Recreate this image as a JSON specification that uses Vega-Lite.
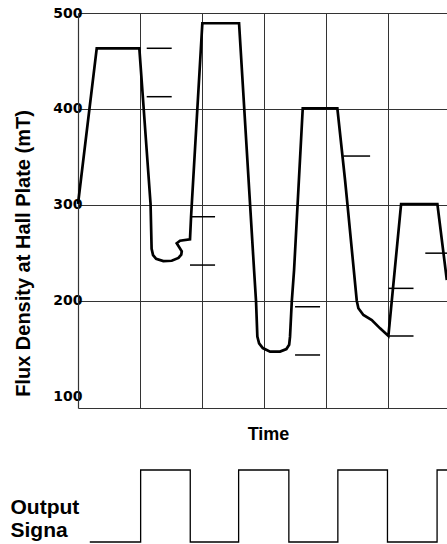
{
  "$schema": "https://vega.github.io/schema/vega-lite/v6.json",
  "background": "white",
  "padding": {"left": 10, "top": 6, "right": 0, "bottom": 2},
  "config": {"view": {"stroke": null}, "concat": {"spacing": 24}},
  "datasets": {
    "flux": [
      {"i": 1, "t": 0, "flux": 300.8},
      {"i": 2, "t": 0.302, "flux": 463.2},
      {"i": 3, "t": 0.989, "flux": 463.2},
      {"i": 5, "t": 1.17, "flux": 300.8},
      {"i": 6, "t": 1.187, "flux": 254},
      {"i": 7, "t": 1.21, "flux": 247.5},
      {"i": 8, "t": 1.26, "flux": 243.5},
      {"i": 9, "t": 1.376, "flux": 241.3},
      {"i": 10, "t": 1.511, "flux": 241.6},
      {"i": 11, "t": 1.62, "flux": 244.5},
      {"i": 12, "t": 1.665, "flux": 248},
      {"i": 13, "t": 1.673, "flux": 251.5},
      {"i": 14, "t": 1.592, "flux": 259.8},
      {"i": 15, "t": 1.645, "flux": 262.5},
      {"i": 16, "t": 1.806, "flux": 264},
      {"i": 17, "t": 1.823, "flux": 287.5},
      {"i": 18, "t": 2.005, "flux": 489.3},
      {"i": 19, "t": 2.597, "flux": 489.3},
      {"i": 20, "t": 2.839, "flux": 231.9},
      {"i": 21, "t": 2.871, "flux": 198.9},
      {"i": 22, "t": 2.892, "flux": 162.4},
      {"i": 23, "t": 2.92, "flux": 155.5},
      {"i": 24, "t": 2.98, "flux": 150.5},
      {"i": 25, "t": 3.097, "flux": 146.7},
      {"i": 26, "t": 3.258, "flux": 146.9},
      {"i": 27, "t": 3.36, "flux": 149.5},
      {"i": 28, "t": 3.405, "flux": 154},
      {"i": 29, "t": 3.419, "flux": 162.4},
      {"i": 30, "t": 3.447, "flux": 198.9},
      {"i": 31, "t": 3.484, "flux": 231.9},
      {"i": 32, "t": 3.624, "flux": 400.6},
      {"i": 33, "t": 4.182, "flux": 400.6},
      {"i": 34, "t": 4.306, "flux": 325.8},
      {"i": 35, "t": 4.344, "flux": 300.8},
      {"i": 36, "t": 4.495, "flux": 199.9},
      {"i": 37, "t": 4.521, "flux": 192},
      {"i": 38, "t": 4.602, "flux": 185},
      {"i": 39, "t": 4.737, "flux": 179.8},
      {"i": 40, "t": 4.871, "flux": 171.1},
      {"i": 41, "t": 5.005, "flux": 163.1},
      {"i": 42, "t": 5.21, "flux": 300.8},
      {"i": 43, "t": 5.795, "flux": 300.8},
      {"i": 44, "t": 5.947, "flux": 221.5}
    ],
    "thresholds": [
      {"t1": 1.108, "t2": 1.511, "v": 463.2},
      {"t1": 1.108, "t2": 1.511, "v": 412.7},
      {"t1": 1.834, "t2": 2.21, "v": 287.5},
      {"t1": 1.806, "t2": 2.21, "v": 237.1},
      {"t1": 3.5, "t2": 3.903, "v": 193.6},
      {"t1": 3.5, "t2": 3.903, "v": 143.3},
      {"t1": 4.279, "t2": 4.71, "v": 350.8},
      {"t1": 5.005, "t2": 5.41, "v": 212.8},
      {"t1": 5.005, "t2": 5.41, "v": 163.1},
      {"t1": 5.6, "t2": 5.95, "v": 249.5}
    ],
    "signal": [
      {"t": 0.19, "level": 0},
      {"t": 1.01, "level": 1},
      {"t": 1.81, "level": 0},
      {"t": 2.59, "level": 1},
      {"t": 3.4, "level": 0},
      {"t": 4.19, "level": 1},
      {"t": 4.99, "level": 0},
      {"t": 5.79, "level": 1},
      {"t": 5.95, "level": 1}
    ]
  },
  "vconcat": [
    {
      "width": 369,
      "height": 395,
      "layer": [
        {
          "data": {"name": "flux"},
          "mark": {"type": "line", "color": "black", "strokeWidth": 2.7},
          "encoding": {
            "x": {
              "field": "t",
              "type": "quantitative",
              "scale": {"domain": [0, 5.95], "nice": false, "zero": false},
              "axis": {
                "values": [1, 2, 3, 4, 5],
                "grid": true,
                "gridColor": "#333",
                "gridWidth": 1,
                "gridOpacity": 1,
                "domain": true,
                "domainColor": "#333",
                "domainWidth": 1.2,
                "ticks": false,
                "labels": false,
                "title": "Time",
                "titleFont": "Liberation Sans",
                "titleFontWeight": "bold",
                "titleFontSize": 18,
                "titleColor": "black",
                "titlePadding": 17,
                "titleX": 190
              }
            },
            "y": {
              "field": "flux",
              "type": "quantitative",
              "scale": {"domain": [88, 500], "nice": false, "zero": false},
              "axis": {
                "values": [100, 200, 300, 400, 500],
                "grid": true,
                "gridColor": "#333",
                "gridWidth": 1,
                "gridOpacity": {"condition": {"test": "datum.value == 100", "value": 0}, "value": 1},
                "domain": true,
                "domainColor": "#333",
                "domainWidth": 1.2,
                "ticks": false,
                "labelFont": "DejaVu Sans",
                "labelFontWeight": "bold",
                "labelFontSize": 14,
                "labelColor": "black",
                "labelPadding": -4,
                "title": "Flux Density at Hall Plate (mT)",
                "titleFont": "Liberation Sans",
                "titleFontWeight": "bold",
                "titleFontSize": 20,
                "titleColor": "black",
                "titleBaseline": "alphabetic",
                "titleX": -49,
                "titleY": 240
              }
            },
            "order": {"field": "i", "type": "quantitative"}
          }
        },
        {
          "data": {"name": "thresholds"},
          "mark": {"type": "rule", "color": "black", "strokeWidth": 1.5},
          "encoding": {
            "x": {"field": "t1", "type": "quantitative"},
            "x2": {"field": "t2"},
            "y": {"field": "v", "type": "quantitative"}
          }
        }
      ]
    },
    {
      "width": 369,
      "height": 72,
      "data": {"name": "signal"},
      "mark": {"type": "line", "interpolate": "step-after", "color": "black", "strokeWidth": 1.3},
      "encoding": {
        "x": {
          "field": "t",
          "type": "quantitative",
          "scale": {"domain": [0, 5.95], "nice": false, "zero": false},
          "axis": null
        },
        "y": {
          "field": "level",
          "type": "quantitative",
          "scale": {"domain": [0, 1], "nice": false},
          "axis": {
            "domain": false,
            "ticks": false,
            "labels": false,
            "grid": false,
            "title": ["Output", "Signa"],
            "titleAngle": 0,
            "titleAlign": "left",
            "titleBaseline": "alphabetic",
            "titleFont": "Liberation Sans",
            "titleFontWeight": "bold",
            "titleFontSize": 21,
            "titleLineHeight": 23,
            "titleColor": "black",
            "titleX": -68,
            "titleY": 43
          }
        }
      }
    }
  ]
}
